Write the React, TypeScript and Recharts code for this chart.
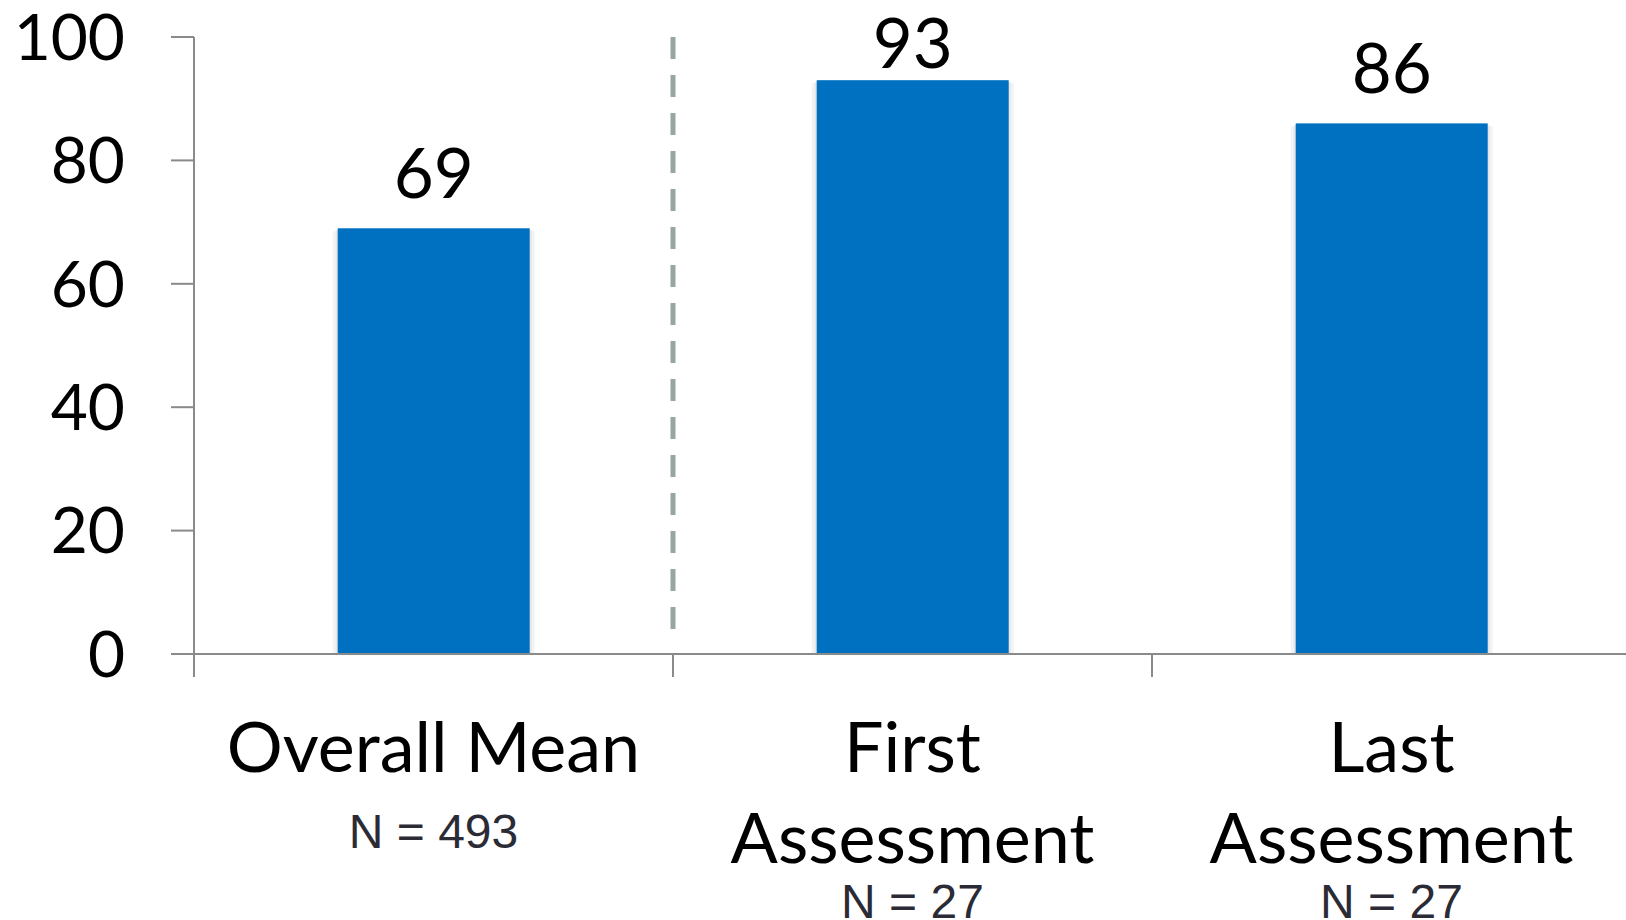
import { BarChart, Bar, XAxis, YAxis, ReferenceLine, LabelList } from 'recharts'

const categories = ['Overall Mean', 'First Assessment', 'Last Assessment']
const categoryLines = [['Overall Mean'], ['First', 'Assessment'], ['Last', 'Assessment']]
const sampleSizes = [493, 27, 27]
const scores = [69, 93, 86]
const yTicks = [0, 20, 40, 60, 80, 100]

const data = categories.map((name, i) => ({ name, score: scores[i] }))

const AXIS_GRAY = '#8a8a8a'
const LABEL_FONT = 'Lato, "Open Sans", sans-serif'

// bar with a faint grey drop shadow on both sides
function ShadowBar(props: any) {
  const { x, y, width, height, fill } = props
  if (!height) return null
  return (
    <g>
      <rect x={x - 5} y={y + 3} width={width + 10} height={height - 3} fill="#f3f3f3" />
      <rect x={x - 2} y={y + 2} width={width + 4} height={height - 2} fill="#e6e6e6" />
      <rect x={x} y={y} width={width} height={height} fill={fill} />
    </g>
  )
}

// dashed divider, stopping a bit short of the category axis
function DividerLine(props: any) {
  const { x1, y1, x2, y2, stroke, strokeWidth, strokeDasharray } = props
  const top = Math.min(y1, y2)
  const bottom = Math.max(y1, y2) - 25
  return (
    <line
      x1={x1}
      x2={x2}
      y1={top}
      y2={bottom}
      stroke={stroke}
      strokeWidth={strokeWidth}
      strokeDasharray={strokeDasharray}
    />
  )
}

// value above the bar, pushed down when it would run off the top
function ValueLabel(props: any) {
  const { x, y, width, value } = props
  const baseline = Math.max(y - 30, 68)
  return (
    <text
      x={x + width / 2}
      y={baseline}
      textAnchor="middle"
      fontFamily={LABEL_FONT}
      fontSize={69}
      fill="#000"
    >
      {value}
    </text>
  )
}

// category name (one or two lines) plus the sample size, and the tick marks between categories
function CategoryTick(props: any) {
  const { x, y, payload, index } = props
  const i = categories.indexOf(payload.value)
  const lines = categoryLines[i] || [payload.value]
  const half = payload.offset || 0
  const lastLineY = y + 118 + (lines.length - 1) * 91
  return (
    <g>
      <line x1={x - half} x2={x - half} y1={y} y2={y + 23} stroke={AXIS_GRAY} strokeWidth={2} />
      {index === categories.length - 1 && (
        <line x1={x + half} x2={x + half} y1={y} y2={y + 23} stroke={AXIS_GRAY} strokeWidth={2} />
      )}
      {lines.map((line, k) => (
        <text
          key={k}
          x={x}
          y={y + 118 + k * 91}
          textAnchor="middle"
          fontFamily={LABEL_FONT}
          fontSize={70}
          fill="#000"
        >
          {line}
        </text>
      ))}
      <text
        x={x}
        y={lastLineY + (lines.length > 1 ? 55 : 76)}
        textAnchor="middle"
        fontFamily='"Liberation Sans", Arial, sans-serif'
        fontSize={48}
        fill="#2b2b36"
      >
        {`N = ${sampleSizes[i]}`}
      </text>
    </g>
  )
}

export default function App() {
  return (
    <div style={{ width: 1626, height: 920, overflow: 'hidden', background: '#fff' }}>
      <style>{'body{margin:0}'}</style>
      <BarChart
        width={1640}
        height={940}
        data={data}
        margin={{ top: 37, right: 9, left: 0, bottom: 0 }}
        barCategoryGap="30%"
      >
        <YAxis
          domain={[0, 100]}
          ticks={yTicks}
          width={194}
          axisLine={{ stroke: AXIS_GRAY, strokeWidth: 2 }}
          tickLine={{ stroke: AXIS_GRAY, strokeWidth: 2 }}
          tickSize={23}
          tickMargin={46}
          tick={{ fontFamily: LABEL_FONT, fontSize: 64, fill: '#000' }}
        />
        <XAxis
          dataKey="name"
          height={286}
          interval={0}
          axisLine={{ stroke: AXIS_GRAY, strokeWidth: 2 }}
          tickLine={false}
          tickSize={0}
          tickMargin={0}
          tick={<CategoryTick />}
        />
        <ReferenceLine
          x="First Assessment"
          position="start"
          stroke="#97a69e"
          strokeWidth={5}
          strokeDasharray="22 16"
          shape={<DividerLine />}
        />
        <Bar dataKey="score" fill="#0070c0" shape={<ShadowBar />} isAnimationActive={false}>
          <LabelList dataKey="score" content={<ValueLabel />} />
        </Bar>
      </BarChart>
    </div>
  )
}
